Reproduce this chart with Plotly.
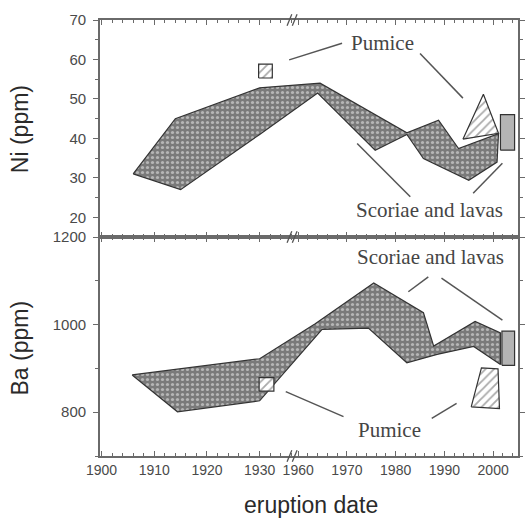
import plotly.graph_objects as go
from plotly.subplots import make_subplots

# ---------------- broken time axis (1900-1936 // 1959-2005) ----------------
SEG1_END = 1936.2
SEG2_START = 1958.8
SEG2_SCALE = 0.925


def t(yr):
    return yr if yr <= SEG1_END else SEG1_END + (yr - SEG2_START) * SEG2_SCALE


def tl(years):
    return [t(v) for v in years]


# ---------------- data ----------------
tick_years = [1900, 1910, 1920, 1930, 1960, 1970, 1980, 1990, 2000]
tick_labels = ["1900", "1910", "1920", "1930", "1960", "1970", "1980", "1990", "2000"]
minor_years = [y for y in range(1900, 1937, 2)] + [y for y in range(1960, 2005, 2)]

# Ni (ppm) - scoriae and lavas field (outline, clockwise)
ni_scoriae_year = [1906, 1914, 1930, 1964.5, 1982.3, 1988.8, 1992.9, 2001.1,
                   2000.8, 1995, 1985.7, 1982.3, 1975.8, 1964, 1930, 1915]
ni_scoriae_ppm = [31, 45, 52.8, 54, 41.4, 44.6, 37.4, 41.2,
                  34, 29.4, 34.9, 41.0, 37, 51.5, 41, 27]
# Ni - pumice fields
ni_pumice_year = [1993.8, 1998, 2001.1]
ni_pumice_ppm = [39.8, 51.2, 41.3]
ni_pumice1930_year = [1929.8, 1932.4]
ni_pumice1930_ppm = [55.3, 58.8]
# Ni - most recent eruption
ni_recent_year = [2001.5, 2004.4]
ni_recent_ppm = [37, 46]

# Ba (ppm) - scoriae and lavas field
ba_scoriae_year = [1905.8, 1930, 1963.5, 1975.5, 1985.7, 1987.8, 1996.3, 2001.5,
                   2001.5, 1996, 1988.5, 1982.3, 1974.4, 1964.9, 1930, 1914.4]
ba_scoriae_ppm = [885, 922, 1002, 1095, 1027, 951, 1007, 981,
                  909, 950, 932, 913, 992, 989, 826, 801]
# Ba - pumice fields
ba_pumice_year = [1995.5, 1997.6, 2001.0, 2001.3]
ba_pumice_ppm = [812, 901, 899, 808]
ba_pumice1930_year = [1929.9, 1932.7]
ba_pumice1930_ppm = [848, 879]
# Ba - most recent eruption
ba_recent_year = [2001.8, 2004.4]
ba_recent_ppm = [907, 985]

# ---------------- styles ----------------
EDGE = "#333333"
AX = "#6a6a6a"
TXT = "#4a4a4a"
dots = dict(shape=".", size=5, solidity=0.33, bgcolor="#7a7a7a", fgcolor="#f2f2f2")
hatch = dict(shape="/", size=6, solidity=0.3, bgcolor="white", fgcolor="#555555")


def poly(xs, ys, pattern=None, fillcolor=None):
    xx = tl(xs) + [t(xs[0])]
    yy = list(ys) + [ys[0]]
    kw = dict(x=xx, y=yy, mode="lines", fill="toself",
              line=dict(color=EDGE, width=1.2), hoverinfo="skip", showlegend=False)
    if pattern is not None:
        kw["fillpattern"] = pattern
        kw["fillcolor"] = pattern["bgcolor"]
    if fillcolor is not None:
        kw["fillcolor"] = fillcolor
    return go.Scatter(**kw)


def rect(xr, yr, **kw):
    xs = [xr[0], xr[1], xr[1], xr[0]]
    ys = [yr[0], yr[0], yr[1], yr[1]]
    return poly(xs, ys, **kw)


fig = make_subplots(rows=2, cols=1, shared_xaxes=True, vertical_spacing=0,
                    row_heights=[217, 219])

# top panel
fig.add_trace(poly(ni_scoriae_year, ni_scoriae_ppm, pattern=dots), row=1, col=1)
fig.add_trace(poly(ni_pumice_year, ni_pumice_ppm, pattern=hatch), row=1, col=1)
fig.add_trace(rect(ni_pumice1930_year, ni_pumice1930_ppm, pattern=hatch), row=1, col=1)
fig.add_trace(rect(ni_recent_year, ni_recent_ppm, fillcolor="#b4b4b4"), row=1, col=1)
# bottom panel
fig.add_trace(poly(ba_scoriae_year, ba_scoriae_ppm, pattern=dots), row=2, col=1)
fig.add_trace(poly(ba_pumice_year, ba_pumice_ppm, pattern=hatch), row=2, col=1)
fig.add_trace(rect(ba_pumice1930_year, ba_pumice1930_ppm, pattern=hatch), row=2, col=1)
fig.add_trace(rect(ba_recent_year, ba_recent_ppm, fillcolor="#b4b4b4"), row=2, col=1)

xcommon = dict(range=[1899.7, t(2005.1)], tickmode="array",
               tickvals=tl(tick_years), ticktext=tick_labels,
               ticks="inside", ticklen=5, tickwidth=1, tickcolor=AX,
               minor=dict(tickvals=tl(minor_years), ticks="inside", ticklen=3,
                          tickcolor=AX, tickwidth=1),
               showline=True, linecolor=AX, linewidth=1.8, mirror="allticks",
               showgrid=False, zeroline=False, automargin=False,
               tickfont=dict(family="Liberation Sans, Arial", size=14, color=TXT))
fig.update_xaxes(**xcommon)
fig.update_xaxes(showticklabels=False, row=1, col=1)

ycommon = dict(ticks="outside", ticklen=5, tickwidth=1, tickcolor=AX,
               showline=True, linecolor=AX, linewidth=1.8, mirror="allticks",
               showgrid=False, zeroline=False, ticklabelstandoff=4, automargin=False,
               tickfont=dict(family="Liberation Sans, Arial", size=15, color=TXT))
fig.update_yaxes(**ycommon)
fig.update_yaxes(range=[15, 70], tickvals=[20, 30, 40, 50, 60, 70],
                 minor=dict(dtick=5, ticks="outside", ticklen=3, tickcolor=AX), row=1, col=1)
fig.update_yaxes(range=[700, 1200], tickvals=[800, 1000, 1200],
                 minor=dict(dtick=100, ticks="outside", ticklen=3, tickcolor=AX), row=2, col=1)

# ---------------- labels & pointers ----------------
serif = dict(family="Liberation Serif, Times New Roman", size=21, color="#454545")
anns = [
    dict(x=t(1977.2), y=64.2, xref="x", yref="y", text="Pumice"),
    dict(x=t(1987.0), y=21.8, xref="x", yref="y", text="Scoriae and lavas"),
    dict(x=t(1987.2), y=1154, xref="x2", yref="y2", text="Scoriae and lavas"),
    dict(x=t(1978.8), y=759, xref="x2", yref="y2", text="Pumice"),
]
for a in anns:
    fig.add_annotation(**a, showarrow=False, font=serif)

pointers_top = [((1935.6, 59.9), (1969.0, 64.1)),
                ((1985.0, 61.5), (1993.8, 50.2)),
                ((1972.1, 38.7), (1983.0, 25.2)),
                ((2001.9, 33.7), (1995.9, 26.1))]
pointers_bot = [((1982.6, 1075), (1986.7, 1109)),
                ((1989.4, 1106), (2001.9, 1010)),
                ((1934.95, 847), (1969.3, 790)),
                ((1987.4, 786), (1992.5, 820))]
for (a, b) in pointers_top:
    fig.add_shape(type="line", xref="x", yref="y", x0=t(a[0]), y0=a[1], x1=t(b[0]), y1=b[1],
                  line=dict(color="#555555", width=1.5))
for (a, b) in pointers_bot:
    fig.add_shape(type="line", xref="x2", yref="y2", x0=t(a[0]), y0=a[1], x1=t(b[0]), y1=b[1],
                  line=dict(color="#555555", width=1.5))

# axis break marks "//" drawn on each horizontal frame line
for yp in [1.0, 219 / 436, 0.0]:
    for dx in (-0.55, 0.45):
        fig.add_shape(type="line", xref="x2", yref="paper",
                      x0=SEG1_END + dx - 0.45, y0=yp - 0.013,
                      x1=SEG1_END + dx + 0.45, y1=yp + 0.013,
                      line=dict(color="#555555", width=1.3))

sans_title = dict(family="Liberation Sans, Arial", size=23, color="#2a2a2a")
fig.add_annotation(x=-0.191, y=0.75, xref="paper", yref="paper", text="Ni (ppm)",
                   textangle=-90, showarrow=False, font=sans_title,
                   xanchor="center", yanchor="middle")
fig.add_annotation(x=-0.191, y=0.247, xref="paper", yref="paper", text="Ba (ppm)",
                   textangle=-90, showarrow=False, font=sans_title,
                   xanchor="center", yanchor="middle")
fig.add_annotation(x=0.505, y=-0.113, xref="paper", yref="paper", text="eruption date",
                   showarrow=False, font=sans_title, xanchor="center", yanchor="middle")

fig.update_layout(width=525, height=522, margin=dict(l=100, r=7, t=20, b=66),
                  paper_bgcolor="white", plot_bgcolor="white", showlegend=False)

fig.write_html("out.html")
